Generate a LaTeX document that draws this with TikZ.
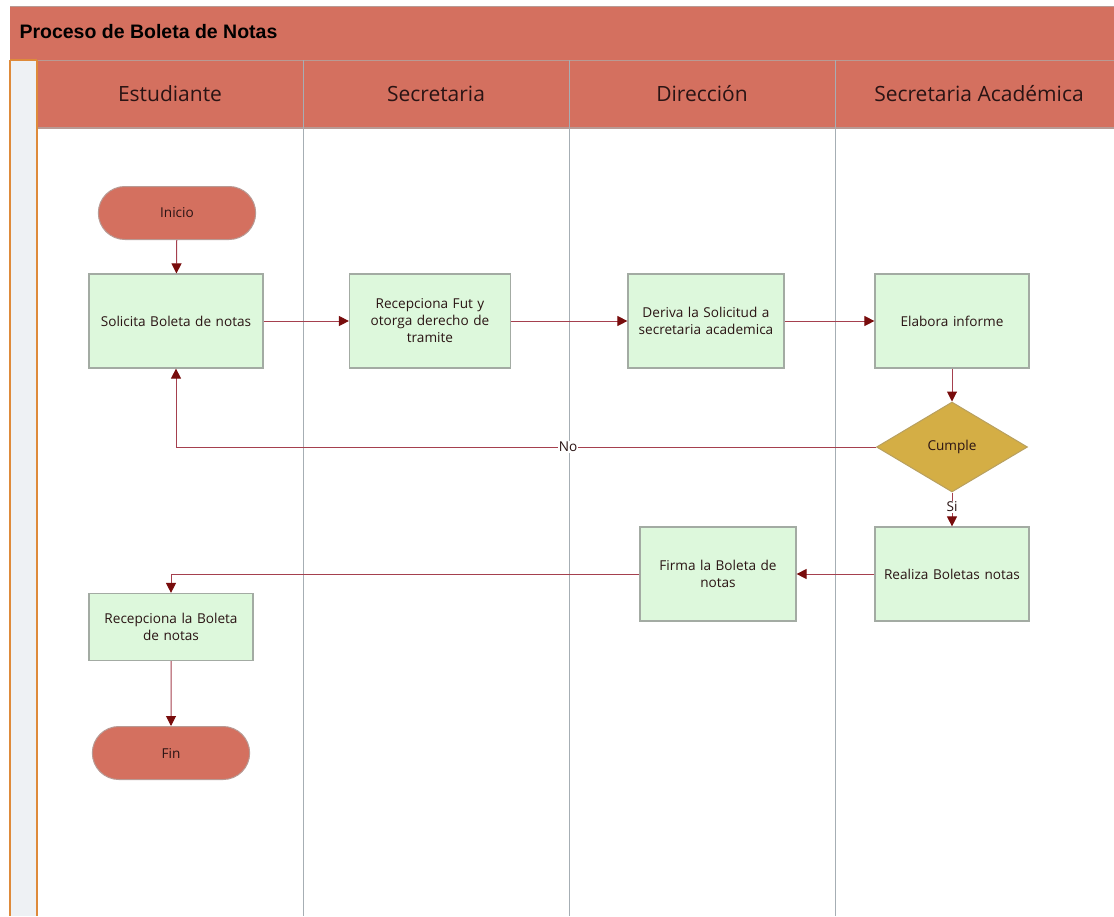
\documentclass[tikz,border=0pt]{standalone}
\usepackage{fontspec}
\setmainfont{Open Sans}
\newfontfamily\titlefont{Liberation Sans}
\usetikzlibrary{arrows.meta,shapes.geometric,shapes.misc}
\definecolor{hdr}{HTML}{D4705F}
\definecolor{hdrline}{HTML}{B89A94}
\definecolor{boxfill}{HTML}{DDF8DC}
\definecolor{boxline}{HTML}{A3ABA3}
\definecolor{gold}{HTML}{D4AE45}
\definecolor{goldline}{HTML}{B8A060}
\definecolor{linec}{HTML}{A5404E}
\definecolor{tipc}{HTML}{780C0C}
\definecolor{lanec}{HTML}{A6AEB4}
\definecolor{stripfill}{HTML}{EEF1F4}
\definecolor{orangeb}{HTML}{DE8A3A}
\definecolor{txt}{HTML}{2A1414}
\tikzset{
  procbox/.style={draw=boxline, line width=1.2pt, fill=boxfill, minimum width=#1, minimum height=94pt, align=center, font=\fontsize{13.6}{17}\selectfont, text=txt, inner sep=2pt},
  term/.style={draw=hdrline, line width=1pt, fill=hdr, rounded rectangle, minimum width=164pt, minimum height=53pt, font=\fontsize{13.6}{16}\selectfont, text=txt},
  decide/.style={draw=goldline, line width=1pt, fill=gold, diamond, aspect=1.68, minimum width=151pt, minimum height=90pt, inner sep=0pt, font=\fontsize{13.6}{16}\selectfont, text=txt},
  conn/.style={draw=linec, line width=1pt, -{Triangle[length=10pt,width=10pt,color=tipc]}},
  lanelbl/.style={font=\fontsize{21}{24}\selectfont, text=txt},
  lbl/.style={fill=white, inner sep=1pt, font=\fontsize{13.6}{15}\selectfont, text=txt}
}
\begin{document}
\begin{tikzpicture}[x=1pt,y=-1pt]
\useasboundingbox (0,0) rectangle (1114,916);
% title band
\fill[hdr] (10,6) rectangle (1114,60);
\draw[hdrline, line width=0.8pt] (10,6) -- (1114,6);
\node[anchor=west, font=\titlefont\bfseries\fontsize{19.5}{22}\selectfont] (title) at (16,32) {Proceso de Boleta de Notas};
% header band
\fill[hdr] (37,60) rectangle (1114,128);
\draw[hdrline, line width=1pt] (37,60) -- (1114,60);
\draw[hdrline, line width=1.5pt] (37,128) -- (1114,128);
% left strip
\fill[stripfill] (10,60) rectangle (37,916);
\draw[orangeb, line width=1.5pt] (10,60) -- (10,916);
\draw[orangeb, line width=1.5pt] (37,60) -- (37,916);
\draw[orangeb, line width=1.5pt] (10,60) -- (37,60);
% lane lines
\foreach \x in {303,569,835} \draw[lanec, line width=1pt] (\x,60) -- (\x,916);
% lane labels
\node[lanelbl] (l1) at (170,94) {Estudiante};
\node[lanelbl] (l2) at (436,94) {Secretaria};
\node[lanelbl] (l3) at (702,94) {Dirección};
\node[lanelbl] (l4) at (979,94) {Secretaria Académica};
% nodes
\node[term] (ini) at (177,213) {Inicio};
\node[procbox=173pt, text width=170pt] (sol) at (176,321) {Solicita Boleta de notas};
\node[procbox=161pt, text width=150pt] (rec) at (430,321) {Recepciona Fut y\\ otorga derecho de\\ tramite};
\node[procbox=154pt, text width=152pt] (der) at (706,321) {Deriva la Solicitud a\\ secretaria academica};
\node[procbox=152pt, text width=150pt] (ela) at (952,321) {Elabora informe};
\node[decide] (cum) at (952,447) {Cumple};
\node[procbox=152pt, text width=150pt] (rea) at (952,574) {Realiza Boletas notas};
\node[procbox=154pt, text width=152pt] (fir) at (718,574) {Firma la Boleta de\\ notas};
\node[procbox=163pt, text width=160pt, minimum height=67pt] (rbn) at (171,627) {Recepciona la Boleta\\ de notas};
\node[term] (fin) at (171,753) {Fin};
% connectors
\draw[conn] (ini) -- (sol);
\draw[conn] (sol) -- (rec);
\draw[conn] (rec) -- (der);
\draw[conn] (der) -- (ela);
\draw[conn] (ela) -- (cum);
\draw[conn] (cum.west) -| node[lbl, pos=0.22] {No} (sol.south);
\draw[conn] (cum) -- node[lbl, pos=0.42] {Si} (rea);
\draw[conn] (rea) -- (fir);
\draw[conn] (fir.west) -| (rbn.north);
\draw[conn] (rbn) -- (fin);
\end{tikzpicture}
\end{document}
